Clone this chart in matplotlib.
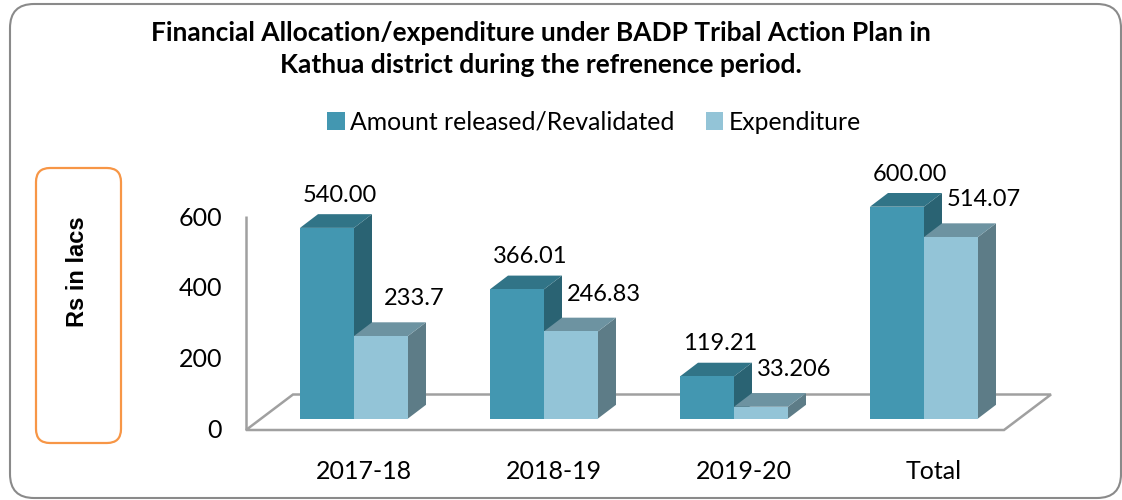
import numpy as np
import matplotlib.pyplot as plt
from matplotlib.patches import Polygon, Rectangle, FancyBboxPatch, Patch
from matplotlib.transforms import IdentityTransform

# data
categories = ['2017-18', '2018-19', '2019-20', 'Total']
released = [540.00, 366.01, 119.21, 600.00]
expenditure = [233.7, 246.83, 33.206, 514.07]
released_lbl = ['540.00', '366.01', '119.21', '600.00']
expend_lbl = ['233.7', '246.83', '33.206', '514.07']
yticks = [0, 200, 400, 600]

series_names = ['Amount released/Revalidated', 'Expenditure']
title = ('Financial Allocation/expenditure under BADP Tribal Action Plan in\n'
         'Kathua district during the refrenence period.')

# colours (front, top, side)
c_dark = ('#4397b1', '#317487', '#2a6373')
c_light = ('#93c4d7', '#6d93a1', '#5d7c87')
grid_c = '#a0a0a0'

plt.rcParams['font.family'] = ['Lato', 'DejaVu Sans']

W, H = 1122, 500
fig = plt.figure(figsize=(W / 100, H / 100), dpi=100)

# axes in data units: x = category index, y = value (front face baseline at 0)
px_per_unit = 0.353
base_px = 418.5
ax = fig.add_axes([0, 0, 1, 1])
ax.set_xlim(-354 / 190, (W - 354) / 190)
ax.set_ylim((base_px - H) / px_per_unit, base_px / px_per_unit)
ax.axis('off')

bw = 54 / 190          # bar width
dx, dy = 18 / 190, 13.7 / px_per_unit   # depth of bars
fdx, fdy = 47 / 190, 35.5 / px_per_unit  # depth of floor
floor_front = -11.5 / px_per_unit
x_left = -108 / 190
x_right = 650 / 190

# floor
floor = Polygon([(x_left, floor_front), (x_left + fdx, floor_front + fdy),
                 (x_right + fdx, floor_front + fdy), (x_right, floor_front)],
                closed=True, facecolor='white', edgecolor=grid_c, lw=1.8, zorder=1)
ax.add_patch(floor)
# left axis line
ax.plot([x_left, x_left], [floor_front, floor_front + 606], color=grid_c, lw=1.8,
        zorder=1, solid_capstyle='butt')

def bar3d(x0, h, cols):
    side = [(x0 + bw, 0), (x0 + bw + dx, dy), (x0 + bw + dx, h + dy), (x0 + bw, h)]
    top = [(x0, h), (x0 + dx, h + dy), (x0 + bw + dx, h + dy), (x0 + bw, h)]
    ax.add_patch(Polygon(side, closed=True, facecolor=cols[2], edgecolor='none', zorder=3))
    ax.add_patch(Polygon(top, closed=True, facecolor=cols[1], edgecolor='none', zorder=3))
    ax.add_patch(Rectangle((x0, 0), bw, h, facecolor=cols[0], edgecolor='none', zorder=3))

x = np.arange(len(categories))
for i in x:
    bar3d(i - bw, released[i], c_dark)
    bar3d(i, expenditure[i], c_light)
    ax.text(i - 14 / 190, released[i] + 92, released_lbl[i], ha='center', va='center',
            fontsize=17, zorder=5)
    ax.text(i + 60 / 190, expenditure[i] + 105, expend_lbl[i], ha='center', va='center',
            fontsize=17, zorder=5)
    ax.text(i + 10 / 190, -150, categories[i], ha='center', va='center', fontsize=18)

for t in yticks:
    ax.text(x_left - 24 / 190, floor_front + t * 1.0, str(t), ha='right', va='center',
            fontsize=18)

# title + legend
fig.text(541 / W, 1 - 49 / H, title, ha='center', va='center', fontsize=19,
         fontweight='bold', linespacing=1.38)
handles = [Patch(facecolor=c_dark[0]), Patch(facecolor=c_light[0])]
fig.legend(handles, series_names, loc='center', bbox_to_anchor=(594 / W, 1 - 122 / H),
           ncol=2, frameon=False, fontsize=17.8, handlelength=0.7, handleheight=0.7,
           handletextpad=0.2, columnspacing=1.3)

# boxes
fig.patches.append(FancyBboxPatch((10, 2), 1111, 494, boxstyle='round,pad=0,rounding_size=24',
                                  transform=IdentityTransform(), facecolor='none',
                                  edgecolor='#8a8a8a', lw=1.5, figure=fig))
fig.patches.append(FancyBboxPatch((36, H - 443), 85, 275, boxstyle='round,pad=0,rounding_size=14',
                                  transform=IdentityTransform(), facecolor='none',
                                  edgecolor='#f79646', lw=1.6, figure=fig))
fig.text(78 / W, 1 - 272 / H, 'Rs in lacs', rotation=90, ha='center', va='center',
         fontsize=17, fontweight='bold', family=['Liberation Sans', 'DejaVu Sans'])

fig.savefig('out.png', dpi=100)
